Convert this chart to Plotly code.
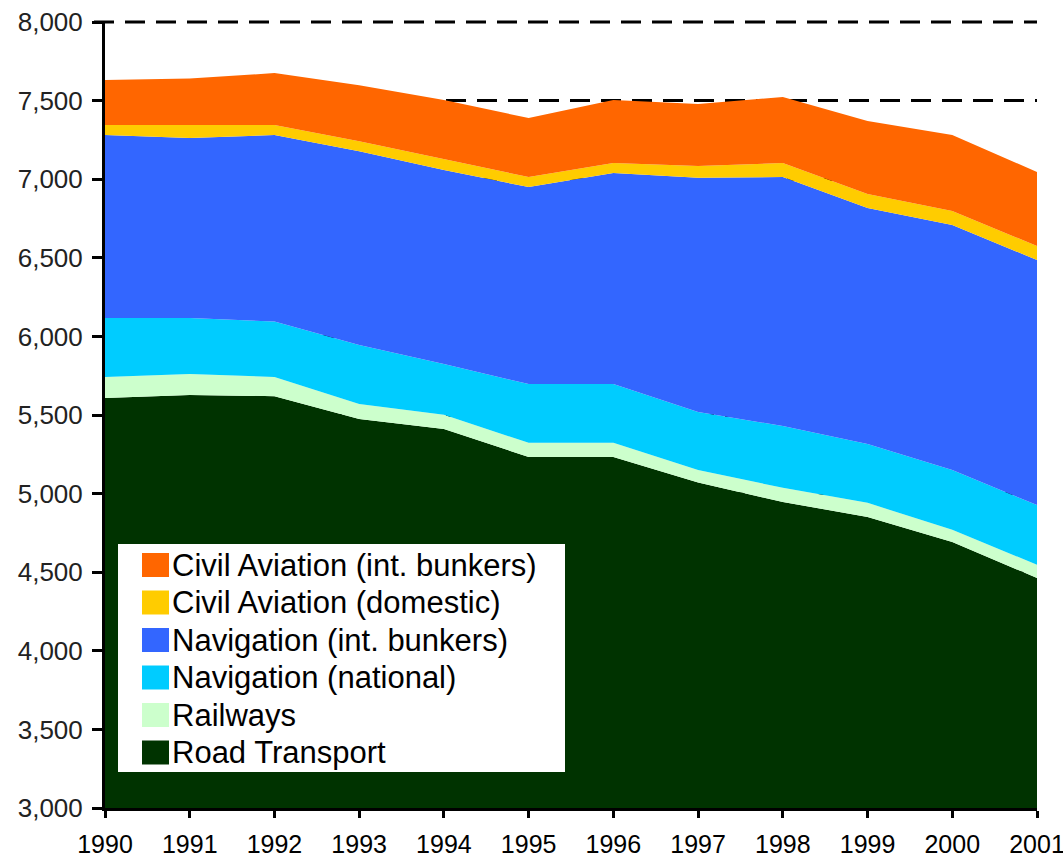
import plotly.graph_objects as go

years = [1990, 1991, 1992, 1993, 1994, 1995, 1996, 1997, 1998, 1999, 2000, 2001]

road_transport = [5608, 5627, 5620, 5475, 5411, 5233, 5233, 5070, 4947, 4851, 4692, 4463]
railways = [134, 134, 122, 95, 90, 90, 90, 80, 90, 90, 78, 84]
navigation_national = [375, 356, 353, 376, 323, 374, 374, 369, 393, 375, 380, 380]
navigation_int = [1164, 1145, 1186, 1232, 1235, 1253, 1342, 1491, 1584, 1501, 1559, 1559]
civil_aviation_domestic = [64, 83, 64, 64, 70, 64, 64, 74, 89, 89, 89, 89]
civil_aviation_int = [286, 295, 330, 356, 375, 375, 401, 394, 420, 464, 483, 471]

series_names = [
    "Road Transport",
    "Railways",
    "Navigation (national)",
    "Navigation (int. bunkers)",
    "Civil Aviation (domestic)",
    "Civil Aviation (int. bunkers)",
]
series_values = [road_transport, railways, navigation_national, navigation_int,
                 civil_aviation_domestic, civil_aviation_int]
series_colors = ["#003300", "#CCFFCC", "#00CCFF", "#3366FF", "#FFCC00", "#FF6600"]

y_ticks = [3000, 3500, 4000, 4500, 5000, 5500, 6000, 6500, 7000, 7500, 8000]

FONT = "Liberation Sans, Arial, sans-serif"
W, H = 1063, 858
PL, PR, PT, PB = 105, 1037, 22, 808


def px(xp):
    return (xp - PL) / (PR - PL)


def py(yp):
    return (PB - yp) / (PB - PT)


fig = go.Figure()
for name, vals, col in zip(series_names, series_values, series_colors):
    fig.add_trace(go.Scatter(
        x=years, y=vals, name=name, mode="lines", stackgroup="one",
        line=dict(width=0, color=col), fillcolor=col, showlegend=False,
        hoverinfo="x+y+name",
    ))

shapes = [
    # top dashed gridline (at the plot's upper edge, not clipped)
    dict(type="line", xref="paper", yref="paper", layer="above",
         x0=px(94), x1=1, y0=1, y1=1,
         line=dict(color="black", width=3, dash="20px,11px")),
    # legend box
    dict(type="rect", xref="paper", yref="paper", layer="above",
         x0=px(118), x1=px(565), y0=py(772), y1=py(544),
         fillcolor="white", line=dict(width=0)),
]
annotations = []
row_centers = [565, 602.5, 640, 677.5, 715, 752.5]
for i, (name, col) in enumerate(zip(series_names[::-1], series_colors[::-1])):
    cy = row_centers[i]
    shapes.append(dict(type="rect", xref="paper", yref="paper", layer="above",
                       x0=px(142), x1=px(169), y0=py(cy + 12), y1=py(cy - 12),
                       fillcolor=col, line=dict(width=0)))
    annotations.append(dict(x=px(170), y=py(cy), xref="paper", yref="paper",
                            text=name, showarrow=False, xanchor="left", yanchor="middle",
                            font=dict(family=FONT, size=31, color="black")))

fig.update_layout(
    width=W, height=H,
    margin=dict(l=PL, r=W - PR, t=PT, b=H - PB, autoexpand=False),
    paper_bgcolor="white", plot_bgcolor="white",
    showlegend=False,
    shapes=shapes, annotations=annotations,
    font=dict(family=FONT, color="black"),
)
fig.update_xaxes(
    range=[1990, 2001], tickvals=years, ticktext=[str(y) for y in years],
    showgrid=False, zeroline=False, automargin=False, ticklabeloverflow="allow",
    showline=True, linecolor="black", linewidth=3,
    ticks="outside", ticklen=7, tickwidth=3, tickcolor="black",
    ticklabelstandoff=5,
    tickfont=dict(family=FONT, size=25, color="black"),
)
fig.update_yaxes(
    range=[3000, 8000], tickvals=y_ticks, tickformat=",",
    showgrid=True, gridcolor="black", gridwidth=3, griddash="20px,11px",
    zeroline=False, automargin=False, ticklabeloverflow="allow",
    showline=True, linecolor="black", linewidth=3,
    ticks="outside", ticklen=10, tickwidth=3, tickcolor="black",
    ticklabelstandoff=4,
    tickfont=dict(family=FONT, size=26, color="#222222"),
)

fig.write_html(
    "out.html",
    config={"displayModeBar": False},
    post_script="document.body.style.margin='0';document.body.style.overflow='hidden';",
)
